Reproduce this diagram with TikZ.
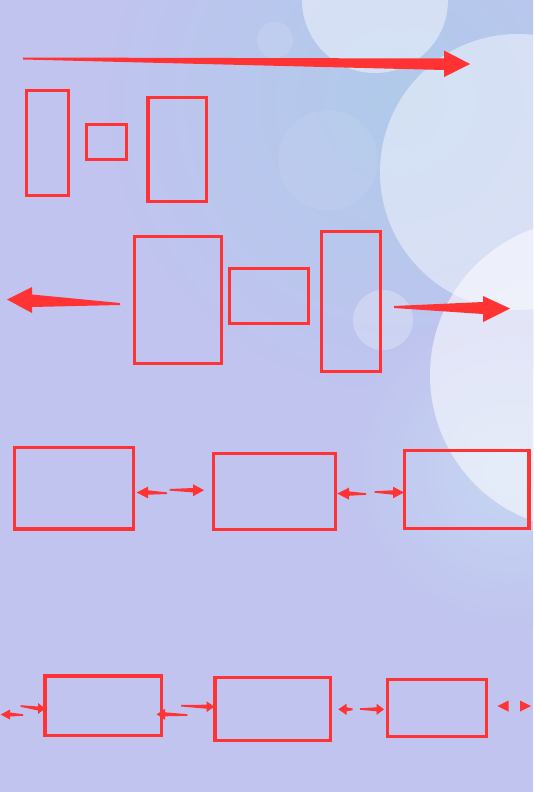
\documentclass[tikz,border=0pt]{standalone}
\usetikzlibrary{shapes.geometric}
\definecolor{bgbase}{RGB}{192,196,239}
\definecolor{bgblue}{RGB}{176,202,234}
\definecolor{bgglow}{RGB}{198,214,242}
\definecolor{redline}{RGB}{255,51,51}
\tikzset{
  rbox/.style={draw=redline, line width=3.2pt, inner sep=0pt, fill=none},
  bubble/.style={fill=white, draw=none},
  redfill/.style={fill=redline, draw=none}
}
\newcommand{\redarrowshape}[7]{%
  \fill[redfill] (#1,#2-0.8) -- (#3,#5-#6) -- (#3,#5-#7) -- (#4,#5) -- (#3,#5+#7) -- (#3,#5+#6) -- (#1,#2+0.8) -- cycle;}
\begin{document}
\begin{tikzpicture}[x=1pt,y=-1pt]
\useasboundingbox (0,0) rectangle (533,792);
% background
\fill[bgbase] (0,0) rectangle (533,792);
\begin{scope}
\clip (0,0) rectangle (533,792);
\shade[inner color=bgblue, outer color=bgbase] (400,100) circle (300);
\shade[inner color=bgglow, outer color=bgbase] (510,470) circle (160);
\fill[bubble, opacity=0.07] (328,160) circle (50);
\fill[bubble, opacity=0.45] (375,0) circle (73);
\fill[bubble, opacity=0.12] (275,40) circle (18);
\fill[bubble, opacity=0.45] (518,172) circle (138);
\fill[bubble, opacity=0.55] (585,375) circle (155);
\fill[bubble, opacity=0.25] (383,320) circle (30);
\end{scope}
% boxes
\node[rbox, minimum width=42.3pt, minimum height=104.8pt] (r1) at (47.25,143) {};
\node[rbox, minimum width=40.1pt, minimum height=35.1pt] (r2) at (106.65,142.15) {};
\node[rbox, minimum width=58.2pt, minimum height=104.4pt] (r3) at (177,149.5) {};
\node[rbox, minimum width=86.5pt, minimum height=127.1pt] (r4) at (177.85,299.85) {};
\node[rbox, minimum width=79.1pt, minimum height=55.1pt] (r5) at (268.85,295.85) {};
\node[rbox, minimum width=58.8pt, minimum height=140.1pt] (r6) at (351,301.35) {};
\node[rbox, minimum width=118.8pt, minimum height=81.3pt] (r7) at (74,488.25) {};
\node[rbox, minimum width=121.8pt, minimum height=75.8pt] (r8) at (274.5,491.5) {};
\node[rbox, minimum width=124.3pt, minimum height=77.8pt] (r9) at (466.75,489.5) {};
\node[rbox, minimum width=116.2pt, minimum height=59.2pt] (r10) at (103,705.5) {};
\node[rbox, minimum width=115.2pt, minimum height=62.8pt] (r11) at (272.5,708.7) {};
\node[rbox, minimum width=99.1pt, minimum height=57.4pt] (r12) at (437.15,708) {};
% big arrows
\fill[redfill] (23,57.5) -- (444,58.5) -- (444,50.5) -- (470,64) -- (444,77) -- (444,70) -- (23,59.5) -- cycle;
\fill[redfill] (120,303) -- (32,294.5) -- (32,287) -- (7,299.5) -- (32,313) -- (32,307) -- (120,305) -- cycle;
\fill[redfill] (394,306) -- (483,302) -- (483,296) -- (510,308.5) -- (483,322) -- (483,314) -- (394,308) -- cycle;
% row 3 small arrows
\redarrowshape{167}{493.2}{148}{136.6}{492.5}{2.2}{5.8}
\redarrowshape{169.5}{489.8}{193}{204}{490.2}{2.2}{6}
\redarrowshape{366}{494}{349}{337.3}{493.6}{2.2}{6}
\redarrowshape{374.6}{491.9}{393}{404}{492.5}{2.2}{5.8}
% row 4 small arrows
\redarrowshape{23}{715}{10}{0.7}{714.5}{2}{5}
\redarrowshape{20.7}{706}{38}{45}{708.5}{2}{5.5}
\redarrowshape{187.3}{715}{165}{156.7}{714.3}{2}{5.5}
\redarrowshape{181}{705.7}{206.7}{214.3}{706.7}{2}{5.3}
\redarrowshape{352.7}{709.3}{346.7}{338.3}{709.3}{2}{5.7}
\redarrowshape{360}{709}{376.7}{384}{709.3}{2}{5.5}
\fill[redfill] (497.5,706) -- (508.5,700.5) -- (508.5,711.5) -- cycle;
\fill[redfill] (520,700.5) -- (531,706) -- (520,711.5) -- cycle;
\end{tikzpicture}
\end{document}
